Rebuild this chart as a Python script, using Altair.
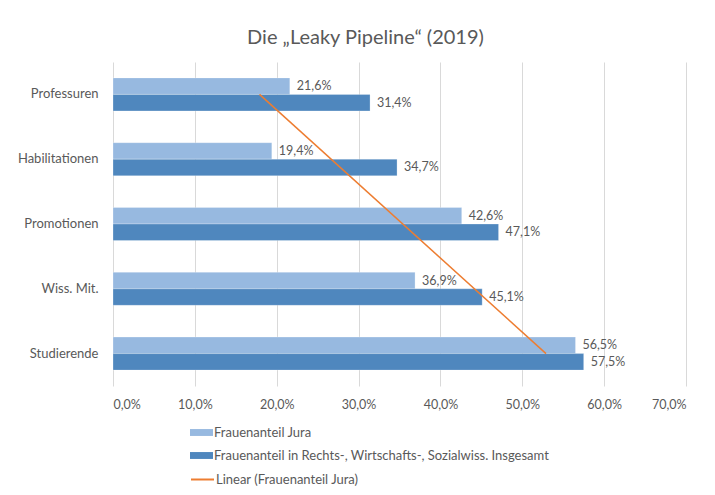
import altair as alt
import pandas as pd

categories = ["Professuren", "Habilitationen", "Promotionen", "Wiss. Mit.", "Studierende"]
series_names = ["Frauenanteil Jura", "Frauenanteil in Rechts-, Wirtschafts-, Sozialwiss. Insgesamt"]
jura = [21.6, 19.4, 42.6, 36.9, 56.5]
gesamt = [31.4, 34.7, 47.1, 45.1, 57.5]
trend_name = "Linear (Frauenanteil Jura)"
trend_categories = ["Professuren", "Studierende"]
trend_values = [17.9, 52.9]
x_ticks = [0, 10, 20, 30, 40, 50, 60, 70]

rows = []
for c, a, b in zip(categories, jura, gesamt):
    rows.append({"cat": c, "series": series_names[0], "value": a})
    rows.append({"cat": c, "series": series_names[1], "value": b})
df = pd.DataFrame(rows)
df["label"] = df["value"].map(lambda v: f"{v:.1f}".replace(".", ",") + "%")
trend_df = pd.DataFrame({"cat": trend_categories, "value": trend_values, "name": trend_name})

FONT = "Lato"
GRAY = "#595959"

y_enc = alt.Y("cat:N", sort=categories, title=None,
              scale=alt.Scale(paddingInner=0.49, paddingOuter=0.245),
              axis=alt.Axis(domain=False, ticks=False, labelFontSize=13, labelColor=GRAY,
                            labelFont=FONT, labelPadding=15))
x_enc = alt.X("value:Q", title=None, scale=alt.Scale(domain=[0, 70], nice=False),
              axis=alt.Axis(values=x_ticks, domain=False, ticks=False, grid=True,
                            gridColor="#d9d9d9", labelFontSize=12.5, labelColor=GRAY,
                            labelFont=FONT, labelPadding=12,
                            labelExpr="replace(format(datum.value, '.1f'), '.', ',') + '%'"))
yoff = alt.YOffset("series:N", sort=series_names, scale=alt.Scale(paddingInner=0, paddingOuter=0))

bars = alt.Chart(df).mark_bar(stroke="white", strokeWidth=0.5, strokeOpacity=0.5).encode(
    y=y_enc, x=x_enc, yOffset=yoff,
    fill=alt.Fill("series:N", sort=series_names,
                  scale=alt.Scale(domain=series_names, range=["#97B9E0", "#4F87BE"]),
                  legend=alt.Legend(orient="none", legendX=77, legendY=359, title=None,
                                    symbolType="M-1,-0.3H1V0.3H-1Z", symbolSize=529,
                                    symbolStrokeWidth=0, labelFontSize=13, labelColor=GRAY,
                                    labelFont=FONT, rowPadding=4, labelOffset=1,
                                    labelLimit=0)),
)

labels = alt.Chart(df).mark_text(align="left", baseline="middle", dx=7, fontSize=12.5,
                                 color=GRAY, font=FONT).encode(
    y=alt.Y("cat:N", sort=categories), x="value:Q", yOffset=yoff, text="label:N"
)

trend = alt.Chart(trend_df).mark_line(strokeWidth=1.5).encode(
    y=alt.Y("cat:N", sort=categories), x="value:Q",
    stroke=alt.Stroke("name:N", scale=alt.Scale(domain=[trend_name], range=["#ED7D31"]),
                      legend=alt.Legend(orient="none", legendX=77, legendY=405, title=None,
                                        symbolType="stroke", symbolSize=529, symbolStrokeWidth=2,
                                        labelFontSize=13, labelColor=GRAY, labelFont=FONT,
                                        labelOffset=1, labelLimit=0)),
)

chart = alt.layer(bars, labels, trend).resolve_scale(fill="independent", stroke="independent").properties(
    width=573, height=324,
    title=alt.TitleParams("Die „Leaky Pipeline“ (2019)", fontSize=20, font=FONT, color=GRAY,
                          fontWeight="normal", dx=-34, offset=14),
    autosize=alt.AutoSizeParams(type="none"),
    padding={"left": 105, "top": 54, "right": 20, "bottom": 107},
).configure_view(stroke=None)

chart.save("out.html", embed_options={"renderer": "svg", "actions": False})
